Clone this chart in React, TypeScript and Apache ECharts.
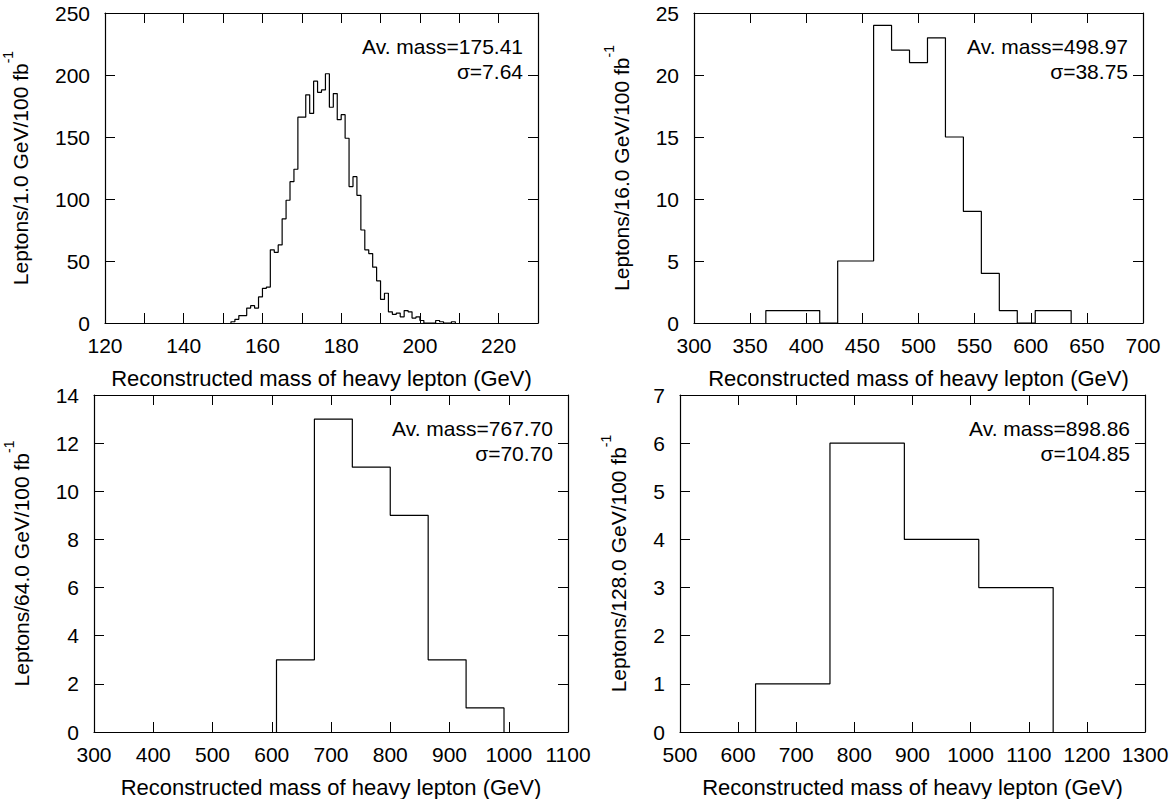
import React, { useEffect, useRef } from "react";
import * as echarts from "echarts";

// ---------- data ----------
// Panel 1: 1 GeV bins starting at 152 GeV
const p1Start = 152;
const p1Width = 1;
const p1Counts = [
  1, 3, 6, 6, 12, 14, 12, 21, 28, 29, 59, 57, 63, 84, 99, 114, 124, 166, 166, 184,
  169, 195, 186, 188, 201, 174, 185, 164, 168, 149, 110, 118, 103, 75, 59, 56, 45, 34,
  19, 24, 9, 7, 8, 5, 10, 9, 4, 5, 2, 0, 0, 0, 2, 1, 0, 0, 1,
];
// Panel 2: 16 GeV bins starting at 364 GeV
const p2Start = 364;
const p2Width = 16;
const p2Counts = [1, 1, 1, 0, 5, 5, 24, 22, 21, 23, 15, 9, 4, 1, 0, 1, 1];
// Panel 3: 64 GeV bins starting at 608 GeV
const p3Start = 608;
const p3Width = 64;
const p3Counts = [3, 13, 11, 9, 3, 1];
// Panel 4: 128 GeV bins starting at 630 GeV
const p4Start = 630;
const p4Width = 128;
const p4Counts = [1, 6, 4, 3];

const xTitle = "Reconstructed mass of heavy lepton (GeV)";
const yTitles = ["Leptons/1.0 GeV/100 fb", "Leptons/16.0 GeV/100 fb", "Leptons/64.0 GeV/100 fb", "Leptons/128.0 GeV/100 fb"];
const avMass = ["Av. mass=175.41", "Av. mass=498.97", "Av. mass=767.70", "Av. mass=898.86"];
const sigmas = ["σ=7.64", "σ=38.75", "σ=70.70", "σ=104.85"];

const xRanges = [
  [120, 230, 10, 20],
  [300, 700, 50, 50],
  [300, 1100, 100, 100],
  [500, 1300, 100, 100],
];
const yRanges = [
  [0, 250, 50],
  [0, 25, 5],
  [0, 14, 2],
  [0, 7, 1],
];

// layout (pixels)
const grids = [
  { left: 104, top: 13, width: 434, height: 310 },
  { left: 694, top: 13, width: 449, height: 310 },
  { left: 94, top: 395, width: 474, height: 337 },
  { left: 680, top: 395, width: 465, height: 337 },
];
const nameGaps = [74, 62, 62, 51];

const FONT = "'Liberation Sans', Arial, Helvetica, sans-serif";

function outline(start: number, width: number, counts: number[]) {
  const pts: number[][] = [[start, 0]];
  counts.forEach((c, i) => {
    pts.push([start + i * width, c]);
    pts.push([start + (i + 1) * width, c]);
  });
  pts.push([start + counts.length * width, 0]);
  return pts;
}

export default function App() {
  const ref = useRef<HTMLDivElement>(null);
  useEffect(() => {
    const chart = echarts.init(ref.current!, null, { renderer: "svg" });
    const hist = [
      outline(p1Start, p1Width, p1Counts),
      outline(p2Start, p2Width, p2Counts),
      outline(p3Start, p3Width, p3Counts),
      outline(p4Start, p4Width, p4Counts),
    ];
    const xAxis: any[] = [];
    const yAxis: any[] = [];
    const series: any[] = [];
    const graphic: any[] = [];
    const tickStyle = { show: true, inside: true, length: 10, lineStyle: { color: "#000", width: 1 } };
    const lineStyle = { show: true, onZero: false, lineStyle: { color: "#000", width: 1.2 } };
    grids.forEach((g, i) => {
      const [xmin, xmax, xint, xlab] = xRanges[i];
      const [ymin, ymax, yint] = yRanges[i];
      xAxis.push({
        type: "value", gridIndex: i, position: "bottom", min: xmin, max: xmax, interval: xint,
        axisLine: lineStyle, axisTick: tickStyle, splitLine: { show: false },
        axisLabel: {
          color: "#000", fontSize: 21, fontFamily: FONT, margin: 12,
          formatter: (v: number) => ((v - xmin) % xlab === 0 ? String(v) : ""),
        },
        name: xTitle, nameLocation: "middle", nameGap: 44,
        nameTextStyle: { color: "#000", fontSize: 22, fontFamily: FONT },
      });
      xAxis.push({
        type: "value", gridIndex: i, position: "top", min: xmin, max: xmax, interval: xint,
        axisLine: lineStyle, axisTick: tickStyle, splitLine: { show: false }, axisLabel: { show: false },
      });
      yAxis.push({
        type: "value", gridIndex: i, position: "left", min: ymin, max: ymax, interval: yint,
        axisLine: lineStyle, axisTick: tickStyle, splitLine: { show: false },
        axisLabel: { color: "#000", fontSize: 21, fontFamily: FONT, margin: 15 },
        name: `{a|${yTitles[i]}}{b|-1}`, nameLocation: "middle", nameRotate: 90,
        nameGap: nameGaps[i],
        nameTextStyle: {
          rich: {
            a: { color: "#000", fontSize: 21, fontFamily: FONT, lineHeight: 30, verticalAlign: "bottom" },
            b: { color: "#000", fontSize: 14, fontFamily: FONT, lineHeight: 30, verticalAlign: "top" },
          },
        },
      });
      yAxis.push({
        type: "value", gridIndex: i, position: "right", min: ymin, max: ymax, interval: yint,
        axisLine: lineStyle, axisTick: tickStyle, splitLine: { show: false }, axisLabel: { show: false },
      });
      series.push({
        type: "line", xAxisIndex: i * 2, yAxisIndex: i * 2, data: hist[i], showSymbol: false,
        symbol: "none", lineStyle: { color: "#000", width: 1.2 }, silent: true, clip: true,
      });
      const rx = g.left + g.width - 15;
      graphic.push({
        type: "text", x: rx, y: g.top + 33,
        style: { text: avMass[i], textAlign: "right", textVerticalAlign: "middle", font: `21px ${FONT}`, fill: "#000" },
      });
      graphic.push({
        type: "text", x: rx, y: g.top + 58,
        style: { text: sigmas[i], textAlign: "right", textVerticalAlign: "middle", font: `21px ${FONT}`, fill: "#000" },
      });
    });
    chart.setOption({
      animation: false,
      backgroundColor: "#fff",
      grid: grids.map((g) => ({ ...g, containLabel: false })),
      xAxis, yAxis, series, graphic,
    });
    return () => chart.dispose();
  }, []);
  return <div ref={ref} style={{ position: "fixed", left: 0, top: 0, width: 1173, height: 799 }} />;
}
